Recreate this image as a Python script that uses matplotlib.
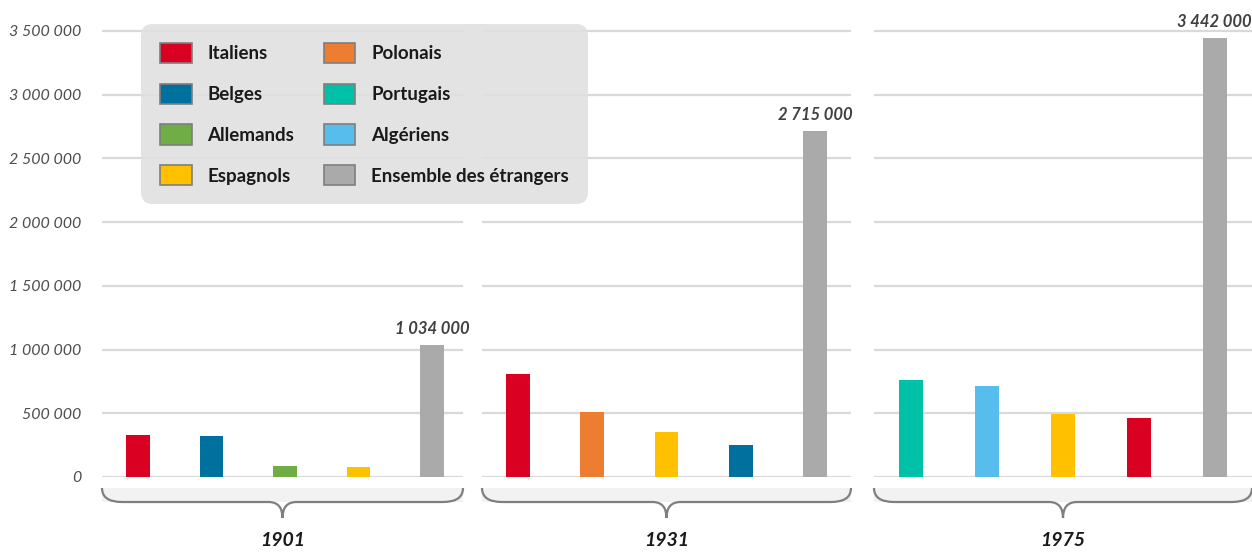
import matplotlib
matplotlib.use("Agg")
import matplotlib.pyplot as plt
from matplotlib.patches import Patch, PathPatch, Rectangle
from matplotlib.path import Path

plt.rcParams['font.family'] = ['Lato', 'DejaVu Sans']

# Populations étrangères en France (recensements)
annees = ['1901', '1931', '1975']
groupes_1901 = ['Italiens', 'Belges', 'Allemands', 'Espagnols', 'Ensemble des étrangers']
valeurs_1901 = [330000, 323000, 90000, 80000, 1034000]
groupes_1931 = ['Italiens', 'Polonais', 'Espagnols', 'Belges', 'Ensemble des étrangers']
valeurs_1931 = [808000, 508000, 352000, 254000, 2715000]
groupes_1975 = ['Portugais', 'Algériens', 'Espagnols', 'Italiens', 'Ensemble des étrangers']
valeurs_1975 = [759000, 711000, 497000, 463000, 3442000]

legende = ['Italiens', 'Belges', 'Allemands', 'Espagnols',
           'Polonais', 'Portugais', 'Algériens', 'Ensemble des étrangers']

couleurs = {
    'Italiens': '#da0021',
    'Belges': '#00709e',
    'Allemands': '#70ad47',
    'Espagnols': '#ffc000',
    'Polonais': '#ed7d31',
    'Portugais': '#00c0a8',
    'Algériens': '#56bdec',
    'Ensemble des étrangers': '#aaaaaa',
}

yticks = [0, 500000, 1000000, 1500000, 2000000, 2500000, 3000000, 3500000]


def fmt(v):
    return f"{v:,}".replace(",", " ")


W, H = 1252, 552
fig = plt.figure(figsize=(W / 100, H / 100), dpi=100)

ymax = 3550000
y0_px = 477
px_per_unit = 446 / 3500000
ax_h = ymax * px_per_unit

# (gauche, largeur, xmin, xmax) de chaque panneau
panneaux = [(102, 361, -0.49, 4.42), (482, 369, -0.485, 4.485), (874, 378, -0.487, 4.49)]
donnees = [(groupes_1901, valeurs_1901), (groupes_1931, valeurs_1931), (groupes_1975, valeurs_1975)]


def accolade(ax, width_px):
    # accolade grise sous chaque groupe d'années
    yt = -11 / ax_h
    yl = -25 / ax_h
    ytip = -41 / ax_h
    dx = 20 / width_px
    dc = 14 / width_px
    ax.add_patch(Rectangle((0, yl), 1, yt - yl, transform=ax.transAxes,
                           facecolor='#f2f2f2', edgecolor='none', clip_on=False, zorder=0))
    verts = [(0, yt), (0, yl), (dx, yl),
             (0.5 - dc, yl),
             (0.5, yl), (0.5, ytip),
             (0.5, yl), (0.5 + dc, yl),
             (1 - dx, yl),
             (1, yl), (1, yt)]
    codes = [Path.MOVETO, Path.CURVE3, Path.CURVE3,
             Path.LINETO,
             Path.CURVE3, Path.CURVE3,
             Path.CURVE3, Path.CURVE3,
             Path.LINETO,
             Path.CURVE3, Path.CURVE3]
    ax.add_patch(PathPatch(Path(verts, codes), transform=ax.transAxes, facecolor='none',
                           edgecolor='#7f7f7f', lw=1.6, clip_on=False, zorder=1))


for i, ((left, width, xmin, xmax), (groupes, valeurs)) in enumerate(zip(panneaux, donnees)):
    ax = fig.add_axes([left / W, (H - y0_px) / H, width / W, ax_h / H])
    x = range(len(groupes))
    ax.bar(x, valeurs, width=0.32, color=[couleurs[g] for g in groupes], zorder=3)
    ax.set_xlim(xmin, xmax)
    ax.set_ylim(0, ymax)
    ax.set_yticks(yticks)
    ax.yaxis.grid(True, color='#d9d9d9', lw=1.6, zorder=0)
    ax.set_axisbelow(True)
    ax.set_xticks([])
    for s in ax.spines.values():
        s.set_visible(False)
    ax.tick_params(axis='y', length=0, pad=15)
    if i == 0:
        ax.set_yticklabels([fmt(v) for v in yticks], fontsize=11.5,
                           style='italic', color='#4d4d4d')
    else:
        ax.set_yticklabels([])
    # étiquette du total
    ax.annotate(fmt(valeurs[-1]), (4, valeurs[-1]), xytext=(0, 6), textcoords='offset points',
                ha='center', va='bottom', fontsize=12, style='italic',
                fontweight='bold', color='#404040')
    accolade(ax, width)
    ax.text(0.5, -63 / ax_h, annees[i], transform=ax.transAxes, ha='center', va='center',
            fontsize=14, style='italic', fontweight='bold', color='#1a1a1a')

handles = [Patch(facecolor=couleurs[g], edgecolor='#7f7f7f', lw=1.2, label=g) for g in legende]
leg = fig.legend(handles=handles, ncol=2, loc='upper left',
                 bbox_to_anchor=(141 / W, 1 - 24 / H), bbox_transform=fig.transFigure,
                 frameon=True, fancybox=True, facecolor='#e0e0e0', edgecolor='none',
                 framealpha=0.88, borderaxespad=0, borderpad=1.0,
                 handlelength=1.7, handleheight=1.28, handletextpad=0.85,
                 columnspacing=1.55, labelspacing=1.1,
                 prop={'weight': 'bold', 'size': 13.5})
leg.get_frame().set_boxstyle('round', pad=0, rounding_size=0.65)
for t in leg.get_texts():
    t.set_color('#1a1a1a')

fig.savefig('out.png', dpi=100)
